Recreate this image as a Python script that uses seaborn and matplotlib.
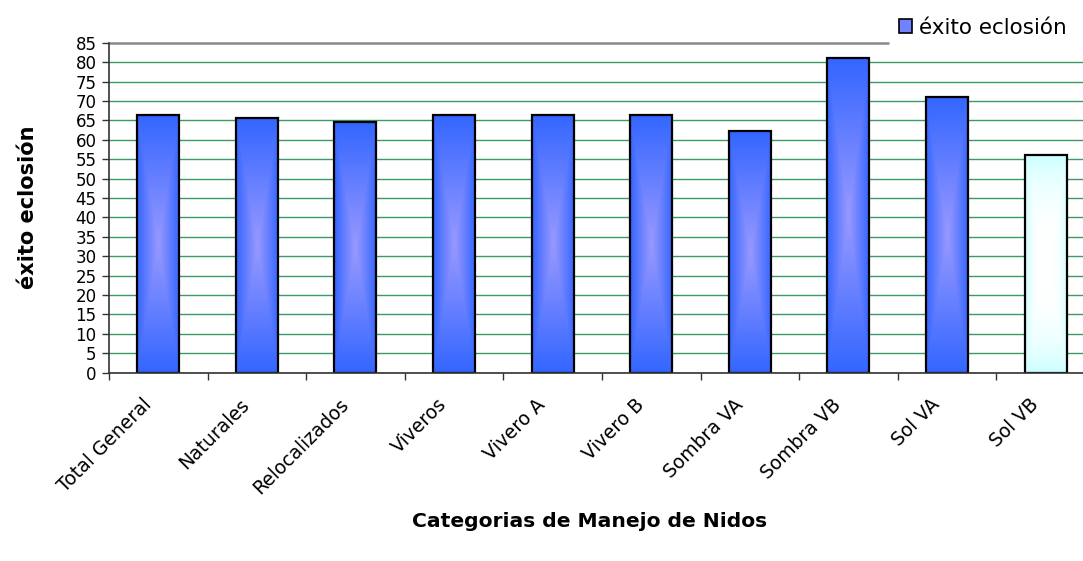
import numpy as np
import matplotlib
matplotlib.use("Agg")
import matplotlib.pyplot as plt
from matplotlib.colors import to_rgb
from matplotlib.patches import Patch
import seaborn as sns

# Hatching success per nest-management category
categories = ["Total General", "Naturales", "Relocalizados", "Viveros", "Vivero A",
              "Vivero B", "Sombra VA", "Sombra VB", "Sol VA", "Sol VB"]
exito = [66.5, 65.6, 64.5, 66.5, 66.5, 66.5, 62.3, 81.0, 70.9, 56.0]
y_ticks = list(range(0, 90, 5))

series_label = "éxito eclosión"
x_title = "Categorias de Manejo de Nidos"
y_title = "éxito eclosión"

# Gradient colours (edge -> centre) for each bar
edge_colors = ["#3366ff"] * 9 + ["#ccffff"]
centre_colors = ["#9999ff"] * 9 + ["#ffffff"]
gradient_power = [1.0] * 9 + [3.0]

sns.set_style("white")
plt.rcParams["font.family"] = ["DejaVu Sans"]
plt.rcParams.update({"text.color": "black", "axes.labelcolor": "black",
                     "xtick.color": "black", "ytick.color": "black"})

fig = plt.figure(figsize=(10.83, 5.61), dpi=100)
ax = fig.add_axes([0.1006, 0.3357, 0.9104, 0.5882])

sns.barplot(x=categories, y=exito, ax=ax, width=0.426, color="#3366ff",
            edgecolor="black", linewidth=1.6, saturation=1)

ax.set_ylim(0, 85)
ax.set_xlim(-0.5, len(categories) - 0.5)

# Fill each bar with a rectangular "from centre" gradient
n = 200
u = np.linspace(-1, 1, n)
U, V = np.meshgrid(u, u)
dist = np.maximum(np.abs(U), np.abs(V))
for patch, ec, cc, pw in zip(ax.patches, edge_colors, centre_colors, gradient_power):
    x0, y0 = patch.get_x(), patch.get_y()
    x1, y1 = x0 + patch.get_width(), y0 + patch.get_height()
    t = dist ** pw
    e = np.array(to_rgb(ec))
    c = np.array(to_rgb(cc))
    img = c[None, None, :] + (e - c)[None, None, :] * t[..., None]
    im = ax.imshow(img, extent=[x0, x1, y0, y1], origin="lower", aspect="auto",
                   interpolation="bilinear", zorder=0.8)
    im.set_clip_path(patch)
    patch.set_facecolor("none")
    patch.set_zorder(1)

ax.set_ylim(0, 85)
ax.set_xlim(-0.5, len(categories) - 0.5)

# Horizontal green gridlines (the top one is replaced by the border line)
ax.set_axisbelow(True)
ax.set_yticks(y_ticks)
ax.yaxis.grid(True, color="#3a9a6a", linewidth=1.0)
ax.xaxis.grid(False)
ax.yaxis.get_gridlines()[-1].set_visible(False)

# Category boundary ticks (major) and slanted labels (minor, anchored a little
# left of each bar centre so the text ends just before it)
label_offset = 0.17
ax.set_xticks(np.arange(-0.5, len(categories), 1.0))
ax.set_xticklabels([])
ax.set_xticks(np.arange(len(categories)) - label_offset, minor=True)
ax.set_xticklabels(categories, minor=True, rotation=45, ha="right", va="top",
                   rotation_mode="anchor", fontsize=13.5)
ax.tick_params(axis="x", which="major", direction="out", length=5, width=1.0,
               color="#333333", bottom=True)
ax.tick_params(axis="x", which="minor", length=0, pad=16)
ax.tick_params(axis="y", direction="out", length=5, width=1.0, color="#333333",
               left=True, labelsize=12, pad=4)

for side in ("top", "right"):
    ax.spines[side].set_visible(False)
for side in ("left", "bottom"):
    ax.spines[side].set_color("#333333")
    ax.spines[side].set_linewidth(1.2)

# Plot-area top border, stopping short of the legend
ax.plot([0, 0.791], [1, 1], transform=ax.transAxes, color="#888888",
        linewidth=1.8, clip_on=False, solid_capstyle="butt")

ax.set_ylabel(y_title, fontsize=15, fontweight="bold", labelpad=27)
ax.set_xlabel(x_title, fontsize=14.6, fontweight="bold")
ax.xaxis.set_label_coords(0.487, -0.4515)
ax.xaxis.label.set_va("center")

handle = Patch(facecolor="#7082ff", edgecolor="black", linewidth=1.2)
fig.legend([handle], [series_label], loc="center left",
           bbox_to_anchor=(899 / 1083, 1 - 28 / 561), frameon=False,
           fontsize=15.5, handlelength=0.62, handleheight=0.62,
           handletextpad=0.3, borderpad=0, borderaxespad=0)

fig.savefig("out.png", dpi=100, facecolor="white")
